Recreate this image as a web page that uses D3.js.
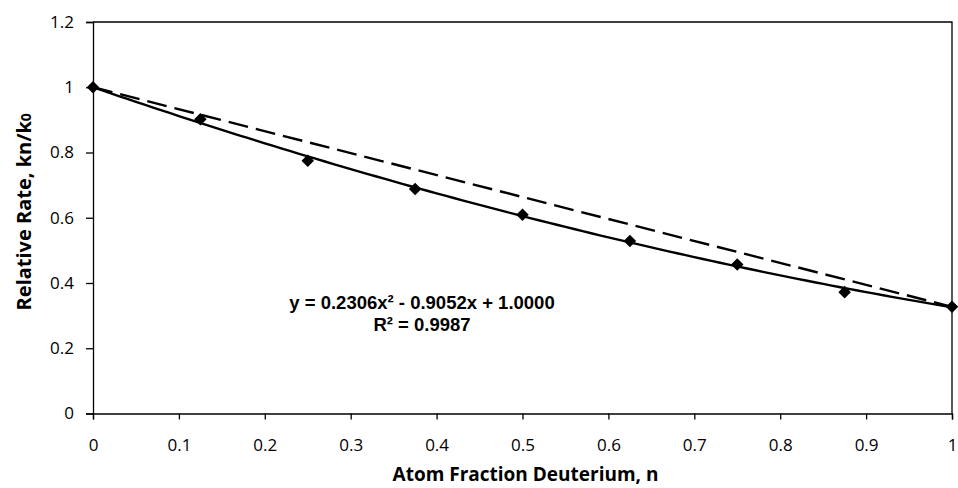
<!DOCTYPE html>
<html>
<head>
<meta charset="utf-8">
<script src="https://cdn.jsdelivr.net/npm/d3@7"></script>
<style>
  body { margin: 0; background: #fff; }
  svg text { fill: #000; }
</style>
</head>
<body>
<div id="chart"></div>
<script>
// measured points
const fraction = [0, 0.125, 0.25, 0.375, 0.5, 0.625, 0.75, 0.875, 1];
const relRate = [1.0, 0.902, 0.775, 0.688, 0.609, 0.529, 0.457, 0.372, 0.327];

// trendline coefficients (quadratic fit, highest order first)
const fitCoef = [0.2306, -0.9052, 1.0];
const fitLabel = "y = 0.2306x² - 0.9052x + 1.0000";
const r2Label = "R² = 0.9987";

const xTicks = [0, 0.1, 0.2, 0.3, 0.4, 0.5, 0.6, 0.7, 0.8, 0.9, 1];
const yTicks = [0, 0.2, 0.4, 0.6, 0.8, 1, 1.2];

const W = 958, H = 488;
const margin = { top: 22, right: 6, bottom: 74.5, left: 93 };
const font = "'Open Sans', Lato, sans-serif";

const svg = d3.select("#chart").append("svg")
    .attr("width", W)
    .attr("height", H);

const x = d3.scaleLinear().domain([0, 1]).range([margin.left, W - margin.right]);
const y = d3.scaleLinear().domain([0, 1.2]).range([H - margin.bottom, margin.top]);

// plot box (top + right border)
svg.append("path")
    .attr("d", `M${x(0)},${y(1.2)}H${x(1)}V${y(0)}`)
    .attr("fill", "none")
    .attr("stroke", "#000")
    .attr("stroke-width", 1.3);

// axes
const xAxis = svg.append("g")
    .attr("transform", `translate(0,${y(0)})`)
    .call(d3.axisBottom(x).tickValues(xTicks).tickSize(6).tickPadding(19).tickFormat(d3.format("")));
const yAxis = svg.append("g")
    .attr("transform", `translate(${x(0)},0)`)
    .call(d3.axisLeft(y).tickValues(yTicks).tickSize(7).tickPadding(12).tickFormat(d3.format("")));

[xAxis, yAxis].forEach(a => {
    a.select(".domain").attr("stroke", "#000").attr("stroke-width", 1.3);
    a.selectAll(".tick line").attr("stroke", "#000").attr("stroke-width", 1.3);
    a.selectAll("text")
        .style("font-family", font)
        .style("font-size", "17px");
});

// dashed straight line between end points
svg.append("line")
    .attr("x1", x(fraction[0])).attr("y1", y(relRate[0]))
    .attr("x2", x(fraction[fraction.length - 1])).attr("y2", y(relRate[relRate.length - 1]))
    .attr("stroke", "#000")
    .attr("stroke-width", 2.4)
    .attr("stroke-dasharray", "20,8");

// polynomial trendline
const poly = t => fitCoef.reduce((acc, c) => acc * t + c, 0);
const fitPts = d3.range(0, 1.0001, 0.01).map(t => [t, poly(t)]);
svg.append("path")
    .datum(fitPts)
    .attr("fill", "none")
    .attr("stroke", "#000")
    .attr("stroke-width", 2.4)
    .attr("d", d3.line().x(d => x(d[0])).y(d => y(d[1])));

// diamond markers
svg.selectAll(".pt")
    .data(fraction.map((f, i) => [f, relRate[i]]))
    .enter().append("path")
    .attr("class", "pt")
    .attr("transform", d => `translate(${x(d[0])},${y(d[1])})`)
    .attr("d", d3.symbol().type(d3.symbolDiamond2).size(100))
    .attr("fill", "#000");

// equation label
const eq = svg.append("g")
    .style("font-family", "'Liberation Sans', Arial, sans-serif")
    .style("font-weight", "bold")
    .style("font-size", "18.5px")
    .attr("text-anchor", "middle");
eq.append("text").attr("x", 422).attr("y", 309).text(fitLabel);
eq.append("text").attr("x", 422).attr("y", 331).text(r2Label);

// axis titles
svg.append("text")
    .attr("x", (x(0) + x(1)) / 2 + 3)
    .attr("y", 481)
    .attr("text-anchor", "middle")
    .style("font-family", font)
    .style("font-weight", "bold")
    .style("font-size", "19px")
    .text("Atom Fraction Deuterium, n");

const yt = svg.append("text")
    .attr("transform", `translate(31,${(y(0) + y(1.2)) / 2 - 6}) rotate(-90)`)
    .attr("text-anchor", "middle")
    .style("font-family", font)
    .style("font-weight", "bold")
    .style("font-size", "20px");
yt.append("tspan").text("Relative Rate, kn/k");
yt.append("tspan").style("font-size", "14px").text("0");
</script>
</body>
</html>
